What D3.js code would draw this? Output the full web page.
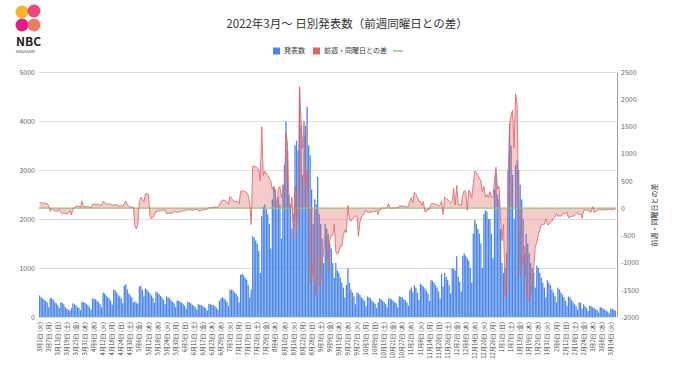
<!DOCTYPE html>
<html>
<head>
<meta charset="utf-8">
<script src="https://cdnjs.cloudflare.com/ajax/libs/d3/7.8.5/d3.min.js"></script>
<style>
  body { margin: 0; background: #fff; }
  text { font-family: "Noto Sans CJK JP", "Noto Sans", sans-serif; }
</style>
</head>
<body>
<div id="chart"></div>
<script>
// ---------- DATA ----------
var titleText = '2022年3月～ 日別発表数（前週同曜日との差）';
var seriesNames = ['発表数', '前週・同曜日との差', ''];
var weekdayNames = ['日', '月', '火', '水', '木', '金', '土'];

// 2022/2/22 - 2/28 (needed for the first week's difference)
var prevWeek = [340, 300, 290, 260, 240, 220, 160];

// daily counts from 2022/3/1 (Tue), one row per week Tue..Mon
var cases = [
  440, 400, 380, 350, 330, 300, 200,
  380, 390, 350, 300, 280, 240, 180,
  300, 290, 260, 200, 170, 150, 130,
  180, 280, 260, 240, 200, 190, 140,
  310, 300, 290, 260, 240, 200, 150,
  380, 370, 360, 330, 300, 260, 200,
  500, 480, 440, 400, 380, 330, 250,
  560, 540, 500, 450, 420, 380, 280,
  640, 670, 560, 480, 440, 400, 300,
  320, 290, 270, 620, 640, 560, 420,
  580, 560, 520, 480, 440, 390, 290,
  520, 500, 470, 430, 400, 350, 260,
  420, 400, 380, 340, 310, 280, 200,
  340, 330, 310, 290, 260, 230, 170,
  310, 300, 280, 250, 230, 200, 150,
  260, 250, 240, 220, 200, 180, 130,
  270, 260, 250, 240, 220, 190, 150,
  330, 380, 400, 380, 350, 300, 220,
  550, 560, 540, 500, 470, 420, 300,
  860, 880, 850, 800, 760, 650, 400,
  560, 1650, 1620, 1560, 1500, 1350, 900,
  2060, 2250, 2300, 2200, 2100, 1900, 1400,
  2400, 2650, 2600, 2200, 2450, 2300, 1600,
  2700, 3100, 3990, 3400, 2500, 2300, 1800,
  2100, 3500, 3600, 3400, 4700, 3900, 2900,
  3700, 3900, 4290, 3500, 3300, 2600, 1900,
  2400, 2300, 2860, 2100, 1900, 1600, 1100,
  1900, 1800, 1700, 1500, 1400, 1100, 800,
  1100, 950, 900, 800, 700, 600, 400,
  650, 1000, 700, 560, 500, 420, 260,
  500, 480, 450, 400, 370, 330, 220,
  420, 400, 380, 330, 300, 270, 180,
  300, 380, 360, 330, 300, 270, 200,
  380, 370, 360, 330, 300, 280, 200,
  420, 410, 400, 360, 340, 300, 230,
  550, 600, 500, 650, 600, 500, 350,
  680, 650, 620, 580, 540, 480, 330,
  750, 740, 700, 650, 600, 520, 380,
  880, 620, 900, 820, 760, 650, 480,
  1000, 980, 950, 1240, 820, 720, 520,
  1250, 1300, 1250, 1200, 1150, 1000, 700,
  1700, 1980, 1900, 1800, 1700, 1500, 1000,
  2100, 2180, 2150, 2000, 2000, 1700, 1200,
  2600, 2930, 2500, 2400, 1800, 1100, 900,
  1000, 1300, 3000, 3950, 3500, 2900, 2000,
  3100, 3200, 3000, 2700, 2400, 2000, 1300,
  1700, 1500, 1300, 1100, 1000, 900, 600,
  1050, 1000, 900, 800, 700, 600, 400,
  750, 700, 650, 560, 500, 430, 300,
  600, 560, 500, 450, 400, 330, 230,
  420, 400, 350, 300, 260, 220, 150,
  300, 290, 170, 260, 220, 180, 120,
  230, 220, 200, 180, 160, 140, 90,
  200, 190, 170, 150, 130, 110, 70,
  170, 160, 150, 130
];

var leftTicks = [0, 1000, 2000, 3000, 4000, 5000];
var rightTicks = [-2000, -1500, -1000, -500, 0, 500, 1000, 1500, 2000, 2500];
var labelStep = 6;

// 前週同曜日との差
var diffs = cases.map(function(d, i) {
    var before = i < 7 ? prevWeek[i] : cases[i - 7];
    return d - before;
});

function dayLabel(i) {
    var dt = new Date(2022, 2, 1 + i);
    return (dt.getMonth() + 1) + '月' + dt.getDate() + '日 (' + weekdayNames[dt.getDay()] + ')';
}

// ---------- CHART ----------
var W = 680, H = 382;
var plotLeft = 39, plotRight = 616, plotTop = 72, plotBottom = 317;

var svg = d3.select('#chart').append('svg')
    .attr('width', W)
    .attr('height', H);

var x = d3.scaleBand()
    .domain(d3.range(cases.length))
    .range([plotLeft, plotRight])
    .paddingInner(0.15);

var yL = d3.scaleLinear().domain([0, 5000]).range([plotBottom, plotTop]);
var yR = d3.scaleLinear().domain([-2000, 2500]).range([plotBottom, plotTop]);

// gridlines
svg.append('g')
    .selectAll('line')
    .data(leftTicks)
    .enter()
    .append('line')
        .attr('x1', plotLeft)
        .attr('x2', plotRight)
        .attr('y1', function(d){ return yL(d) + 0.5; })
        .attr('y2', function(d){ return yL(d) + 0.5; })
        .attr('stroke', '#e0e0e0');

// left axis
var leftAxis = svg.append('g')
    .attr('transform', 'translate(' + (plotLeft - 4) + ',0)')
    .call(d3.axisLeft(yL).tickValues(leftTicks).tickFormat(function(d){ return String(d); })
        .tickSize(0).tickPadding(0));
leftAxis.select('.domain').remove();
leftAxis.selectAll('text').attr('font-size', 7).attr('fill', '#666');

// right axis
var rightAxis = svg.append('g')
    .attr('transform', 'translate(' + (plotRight + 1) + ',0)')
    .call(d3.axisRight(yR).tickValues(rightTicks).tickFormat(function(d){ return String(d); })
        .tickSize(0).tickPadding(4));
rightAxis.select('.domain').attr('stroke', '#9e9e9e');
rightAxis.selectAll('text').attr('font-size', 7).attr('fill', '#666');

// bars
svg.append('g')
    .selectAll('rect')
    .data(cases)
    .enter()
    .append('rect')
        .attr('x', function(d, i){ return x(i); })
        .attr('y', function(d){ return yL(d); })
        .attr('width', x.bandwidth())
        .attr('height', function(d){ return yL(0) - yL(d); })
        .attr('fill', '#4a86e8');

// difference area + line
var cx = function(d, i){ return x(i) + x.bandwidth() / 2; };
svg.append('path')
    .datum(diffs)
    .attr('d', d3.area().x(cx).y0(yR(0)).y1(function(d){ return yR(d); }))
    .attr('fill', '#e06666')
    .attr('fill-opacity', 0.35);

svg.append('line')
    .attr('x1', plotLeft)
    .attr('x2', plotRight)
    .attr('y1', yR(0))
    .attr('y2', yR(0))
    .attr('stroke', '#93c47d')
    .attr('stroke-width', 1.2);

svg.append('path')
    .datum(diffs)
    .attr('d', d3.line().x(cx).y(function(d){ return yR(d); }))
    .attr('fill', 'none')
    .attr('stroke', '#e06666')
    .attr('stroke-opacity', 0.85)
    .attr('stroke-width', 1);

// x axis labels
var xAxis = svg.append('g')
    .attr('transform', 'translate(0,' + (plotBottom + 5) + ')')
    .call(d3.axisBottom(x)
        .tickValues(d3.range(0, cases.length, labelStep))
        .tickFormat(dayLabel)
        .tickSize(0));
xAxis.select('.domain').remove();
xAxis.selectAll('text')
    .attr('transform', 'rotate(-90)')
    .attr('text-anchor', 'end')
    .attr('x', 0)
    .attr('y', 0)
    .attr('dy', '0.35em')
    .attr('font-size', 6)
    .attr('fill', '#444');

// right axis title
svg.append('text')
    .attr('transform', 'translate(655,' + 215 + ') rotate(-90)')
    .attr('text-anchor', 'middle')
    .attr('dy', '0.35em')
    .attr('font-size', 7)
    .attr('fill', '#333')
    .text(seriesNames[1]);

// title
svg.append('text')
    .attr('x', 347)
    .attr('y', 28)
    .attr('text-anchor', 'middle')
    .attr('font-size', 11.5)
    .attr('fill', '#333')
    .text(titleText);

// legend
var legend = svg.append('g').attr('transform', 'translate(273,51)');
legend.append('rect').attr('x', 0).attr('y', -3.5).attr('width', 7).attr('height', 7).attr('fill', '#4a86e8');
legend.append('text').attr('x', 11).attr('y', 0).attr('dy', '0.35em').attr('font-size', 7).attr('fill', '#333').text(seriesNames[0]);
legend.append('rect').attr('x', 40).attr('y', -3.5).attr('width', 7).attr('height', 7).attr('fill', '#e06666');
legend.append('text').attr('x', 51).attr('y', 0).attr('dy', '0.35em').attr('font-size', 7).attr('fill', '#333').text(seriesNames[1]);
legend.append('line').attr('x1', 120).attr('x2', 130).attr('y1', 0).attr('y2', 0).attr('stroke', '#93c47d').attr('stroke-width', 1.5);

// logo
var logo = svg.append('g');
logo.append('circle').attr('cx', 22).attr('cy', 12).attr('r', 6.5).attr('fill', '#f7b52c');
logo.append('circle').attr('cx', 34).attr('cy', 11).attr('r', 6.5).attr('fill', '#e9336f').attr('fill-opacity', 0.9);
logo.append('circle').attr('cx', 22).attr('cy', 25).attr('r', 6.5).attr('fill', '#e4007f').attr('fill-opacity', 0.9);
logo.append('circle').attr('cx', 34).attr('cy', 25).attr('r', 6.5).attr('fill', '#f06d4f').attr('fill-opacity', 0.9);
logo.append('text').attr('x', 16).attr('y', 46).attr('font-size', 12).attr('font-weight', 'bold').attr('fill', '#222')
    .attr('font-family', 'Roboto, sans-serif').text('NBC');
logo.append('text').attr('x', 16).attr('y', 53).attr('font-size', 4).attr('fill', '#444')
    .attr('font-family', 'Roboto, sans-serif').text('NAGASAKI');
</script>
</body>
</html>
